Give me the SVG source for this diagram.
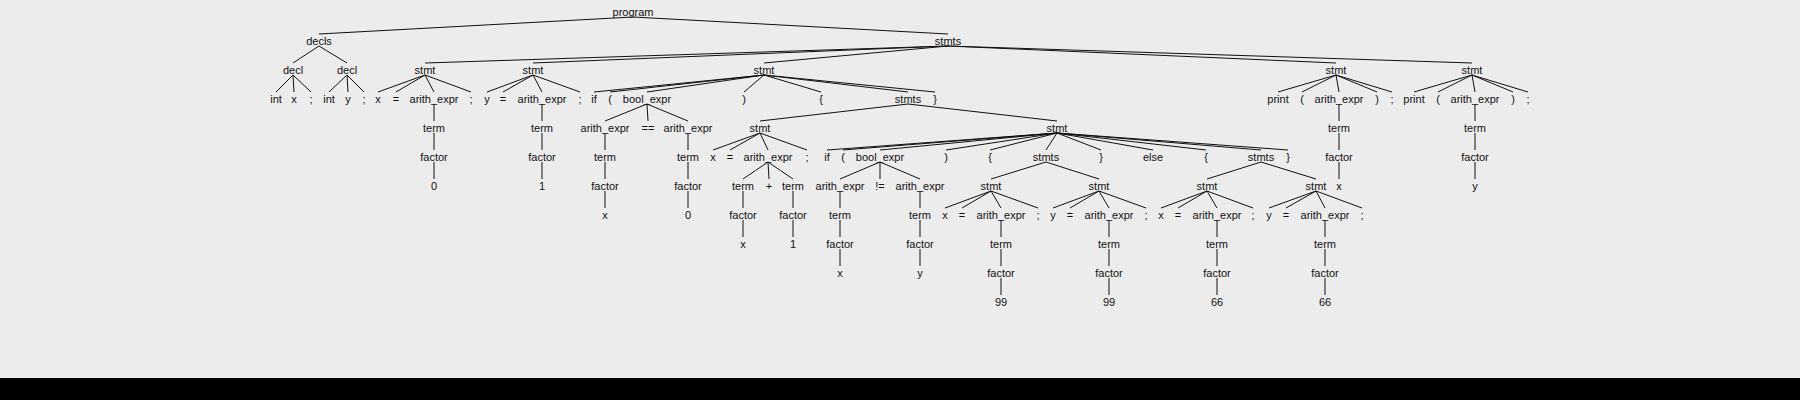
<svg xmlns="http://www.w3.org/2000/svg" width="1800" height="400" viewBox="0 0 1800 400">
<style>
text{font-family:"Liberation Sans",Arial,sans-serif;font-size:11px;text-anchor:middle;fill:#111}
.e path{stroke:#111;stroke-width:1;fill:none}
</style>
<rect x="0" y="0" width="1800" height="400" fill="#ececec"/>
<rect x="0" y="378" width="1800" height="22" fill="#000"/>
<g id="connectors" class="e">
<path d="M633 17L319 34M633 17L948 34"/>
<path d="M319 46L293 63M319 46L347 63"/>
<path d="M293 75L276 92M293 75L294 92M293 75L311 92"/>
<path d="M347 75L329 92M347 75L348 92M347 75L364 92"/>
<path d="M948 46L425 63M948 46L533 63M948 46L764 63M948 46L1336 63M948 46L1472 63"/>
<path d="M425 75L378 92M425 75L396 92M425 75L434 92M425 75L471 92"/>
<path d="M434 104L434 121M434 133L434 150M434 162L434 179"/>
<path d="M533 75L487 92M533 75L503 92M533 75L542 92M533 75L580 92"/>
<path d="M542 104L542 121M542 133L542 150M542 162L542 179"/>
<path d="M764 75L594 92M764 75L610 92M764 75L647 92M764 75L744 92M764 75L821 92M764 75L908 92M764 75L935 92"/>
<path d="M647 104L605 121M647 104L648 121M647 104L688 121"/>
<path d="M605 133L605 150M605 162L605 179M605 191L605 208"/>
<path d="M688 133L688 150M688 162L688 179M688 191L688 208"/>
<path d="M908 104L760 121M908 104L1057 121"/>
<path d="M760 133L713 150M760 133L730 150M760 133L768 150M760 133L807 150"/>
<path d="M768 162L743 179M768 162L769 179M768 162L793 179"/>
<path d="M743 191L743 208M743 220L743 237M793 191L793 208M793 220L793 237"/>
<path d="M1057 133L827 150M1057 133L843 150M1057 133L880 150M1057 133L946 150M1057 133L990 150M1057 133L1046 150M1057 133L1101 150M1057 133L1153 150M1057 133L1206 150M1057 133L1261 150M1057 133L1288 150"/>
<path d="M880 162L840 179M880 162L880 179M880 162L920 179"/>
<path d="M840 191L840 208M840 220L840 237M840 249L840 266"/>
<path d="M920 191L920 208M920 220L920 237M920 249L920 266"/>
<path d="M1046 162L991 179M1046 162L1099 179M1261 162L1207 179M1261 162L1316 179"/>
<path d="M991 191L945 208M991 191L962 208M991 191L1001 208M991 191L1038 208"/>
<path d="M1099 191L1053 208M1099 191L1070 208M1099 191L1109 208M1099 191L1146 208"/>
<path d="M1207 191L1161 208M1207 191L1178 208M1207 191L1217 208M1207 191L1253 208"/>
<path d="M1316 191L1269 208M1316 191L1286 208M1316 191L1325 208M1316 191L1362 208"/>
<path d="M1001 220L1001 237M1001 249L1001 266M1001 278L1001 295"/>
<path d="M1109 220L1109 237M1109 249L1109 266M1109 278L1109 295"/>
<path d="M1217 220L1217 237M1217 249L1217 266M1217 278L1217 295"/>
<path d="M1325 220L1325 237M1325 249L1325 266M1325 278L1325 295"/>
<path d="M1336 75L1278 92M1336 75L1302 92M1336 75L1339 92M1336 75L1377 92M1336 75L1392 92"/>
<path d="M1339 104L1339 121M1339 133L1339 150M1339 162L1339 179"/>
<path d="M1472 75L1414 92M1472 75L1438 92M1472 75L1475 92M1472 75L1513 92M1472 75L1528 92"/>
<path d="M1475 104L1475 121M1475 133L1475 150M1475 162L1475 179"/>
</g>
<g id="program"><text x="633" y="16">program</text></g>
<g id="decls"><text x="319" y="45">decls</text></g>
<g id="stmts0"><text x="948" y="45">stmts</text></g>
<g id="decl1"><text x="293" y="74">decl</text></g>
<g id="decl2"><text x="347" y="74">decl</text></g>
<g id="int1"><text x="276" y="103">int</text></g>
<g id="x1"><text x="294" y="103">x</text></g>
<g id="semi1"><text x="311" y="103">;</text></g>
<g id="int2"><text x="329" y="103">int</text></g>
<g id="y1"><text x="348" y="103">y</text></g>
<g id="semi2"><text x="364" y="103">;</text></g>
<g id="stmtA"><text x="425" y="74">stmt</text></g>
<g id="stmtA_x"><text x="378" y="103">x</text></g>
<g id="stmtA_eq"><text x="396" y="103">=</text></g>
<g id="stmtA_ae"><text x="434" y="103">arith_expr</text></g>
<g id="stmtA_semi"><text x="471" y="103">;</text></g>
<g id="stmtA_term"><text x="434" y="132">term</text></g>
<g id="stmtA_factor"><text x="434" y="161">factor</text></g>
<g id="stmtA_0"><text x="434" y="190">0</text></g>
<g id="stmtB"><text x="533" y="74">stmt</text></g>
<g id="stmtB_y"><text x="487" y="103">y</text></g>
<g id="stmtB_eq"><text x="503" y="103">=</text></g>
<g id="stmtB_ae"><text x="542" y="103">arith_expr</text></g>
<g id="stmtB_semi"><text x="580" y="103">;</text></g>
<g id="stmtB_term"><text x="542" y="132">term</text></g>
<g id="stmtB_factor"><text x="542" y="161">factor</text></g>
<g id="stmtB_1"><text x="542" y="190">1</text></g>
<g id="stmtC"><text x="764" y="74">stmt</text></g>
<g id="stmtC_if"><text x="594" y="103">if</text></g>
<g id="stmtC_lp"><text x="610" y="103">(</text></g>
<g id="stmtC_be"><text x="647" y="103">bool_expr</text></g>
<g id="stmtC_rp"><text x="744" y="103">)</text></g>
<g id="stmtC_lb"><text x="821" y="103">{</text></g>
<g id="stmtC_stmts"><text x="908" y="103">stmts</text></g>
<g id="stmtC_rb"><text x="935" y="103">}</text></g>
<g id="be1_ae1"><text x="605" y="132">arith_expr</text></g>
<g id="be1_op"><text x="648" y="132">==</text></g>
<g id="be1_ae2"><text x="688" y="132">arith_expr</text></g>
<g id="be1_t1"><text x="605" y="161">term</text></g>
<g id="be1_f1"><text x="605" y="190">factor</text></g>
<g id="be1_x"><text x="605" y="219">x</text></g>
<g id="be1_t2"><text x="688" y="161">term</text></g>
<g id="be1_f2"><text x="688" y="190">factor</text></g>
<g id="be1_0"><text x="688" y="219">0</text></g>
<g id="stmtD"><text x="760" y="132">stmt</text></g>
<g id="stmtD_x"><text x="713" y="161">x</text></g>
<g id="stmtD_eq"><text x="730" y="161">=</text></g>
<g id="stmtD_ae"><text x="768" y="161">arith_expr</text></g>
<g id="stmtD_semi"><text x="807" y="161">;</text></g>
<g id="stmtD_t1"><text x="743" y="190">term</text></g>
<g id="stmtD_plus"><text x="769" y="190">+</text></g>
<g id="stmtD_t2"><text x="793" y="190">term</text></g>
<g id="stmtD_f1"><text x="743" y="219">factor</text></g>
<g id="stmtD_f2"><text x="793" y="219">factor</text></g>
<g id="stmtD_x2"><text x="743" y="248">x</text></g>
<g id="stmtD_1"><text x="793" y="248">1</text></g>
<g id="stmtE"><text x="1057" y="132">stmt</text></g>
<g id="stmtE_if"><text x="827" y="161">if</text></g>
<g id="stmtE_lp"><text x="843" y="161">(</text></g>
<g id="stmtE_be"><text x="880" y="161">bool_expr</text></g>
<g id="stmtE_rp"><text x="946" y="161">)</text></g>
<g id="stmtE_lb1"><text x="990" y="161">{</text></g>
<g id="stmtE_stmts1"><text x="1046" y="161">stmts</text></g>
<g id="stmtE_rb1"><text x="1101" y="161">}</text></g>
<g id="stmtE_else"><text x="1153" y="161">else</text></g>
<g id="stmtE_lb2"><text x="1206" y="161">{</text></g>
<g id="stmtE_stmts2"><text x="1261" y="161">stmts</text></g>
<g id="stmtE_rb2"><text x="1288" y="161">}</text></g>
<g id="be2_ae1"><text x="840" y="190">arith_expr</text></g>
<g id="be2_op"><text x="880" y="190">!=</text></g>
<g id="be2_ae2"><text x="920" y="190">arith_expr</text></g>
<g id="be2_t1"><text x="840" y="219">term</text></g>
<g id="be2_f1"><text x="840" y="248">factor</text></g>
<g id="be2_x"><text x="840" y="277">x</text></g>
<g id="be2_t2"><text x="920" y="219">term</text></g>
<g id="be2_f2"><text x="920" y="248">factor</text></g>
<g id="be2_y"><text x="920" y="277">y</text></g>
<g id="stmtF"><text x="991" y="190">stmt</text></g>
<g id="stmtF_x"><text x="945" y="219">x</text></g>
<g id="stmtF_eq"><text x="962" y="219">=</text></g>
<g id="stmtF_ae"><text x="1001" y="219">arith_expr</text></g>
<g id="stmtF_semi"><text x="1038" y="219">;</text></g>
<g id="stmtF_t"><text x="1001" y="248">term</text></g>
<g id="stmtF_f"><text x="1001" y="277">factor</text></g>
<g id="stmtF_99"><text x="1001" y="306">99</text></g>
<g id="stmtG"><text x="1099" y="190">stmt</text></g>
<g id="stmtG_y"><text x="1053" y="219">y</text></g>
<g id="stmtG_eq"><text x="1070" y="219">=</text></g>
<g id="stmtG_ae"><text x="1109" y="219">arith_expr</text></g>
<g id="stmtG_semi"><text x="1146" y="219">;</text></g>
<g id="stmtG_t"><text x="1109" y="248">term</text></g>
<g id="stmtG_f"><text x="1109" y="277">factor</text></g>
<g id="stmtG_99"><text x="1109" y="306">99</text></g>
<g id="stmtH"><text x="1207" y="190">stmt</text></g>
<g id="stmtH_x"><text x="1161" y="219">x</text></g>
<g id="stmtH_eq"><text x="1178" y="219">=</text></g>
<g id="stmtH_ae"><text x="1217" y="219">arith_expr</text></g>
<g id="stmtH_semi"><text x="1253" y="219">;</text></g>
<g id="stmtH_t"><text x="1217" y="248">term</text></g>
<g id="stmtH_f"><text x="1217" y="277">factor</text></g>
<g id="stmtH_66"><text x="1217" y="306">66</text></g>
<g id="stmtI"><text x="1316" y="190">stmt</text></g>
<g id="stmtI_y"><text x="1269" y="219">y</text></g>
<g id="stmtI_eq"><text x="1286" y="219">=</text></g>
<g id="stmtI_ae"><text x="1325" y="219">arith_expr</text></g>
<g id="stmtI_semi"><text x="1362" y="219">;</text></g>
<g id="stmtI_t"><text x="1325" y="248">term</text></g>
<g id="stmtI_f"><text x="1325" y="277">factor</text></g>
<g id="stmtI_66"><text x="1325" y="306">66</text></g>
<g id="stmtJ"><text x="1336" y="74">stmt</text></g>
<g id="stmtJ_print"><text x="1278" y="103">print</text></g>
<g id="stmtJ_lp"><text x="1302" y="103">(</text></g>
<g id="stmtJ_ae"><text x="1339" y="103">arith_expr</text></g>
<g id="stmtJ_rp"><text x="1377" y="103">)</text></g>
<g id="stmtJ_semi"><text x="1392" y="103">;</text></g>
<g id="stmtJ_t"><text x="1339" y="132">term</text></g>
<g id="stmtJ_f"><text x="1339" y="161">factor</text></g>
<g id="stmtJ_x"><text x="1339" y="190">x</text></g>
<g id="stmtK"><text x="1472" y="74">stmt</text></g>
<g id="stmtK_print"><text x="1414" y="103">print</text></g>
<g id="stmtK_lp"><text x="1438" y="103">(</text></g>
<g id="stmtK_ae"><text x="1475" y="103">arith_expr</text></g>
<g id="stmtK_rp"><text x="1513" y="103">)</text></g>
<g id="stmtK_semi"><text x="1528" y="103">;</text></g>
<g id="stmtK_t"><text x="1475" y="132">term</text></g>
<g id="stmtK_f"><text x="1475" y="161">factor</text></g>
<g id="stmtK_y"><text x="1475" y="190">y</text></g>
</svg>
